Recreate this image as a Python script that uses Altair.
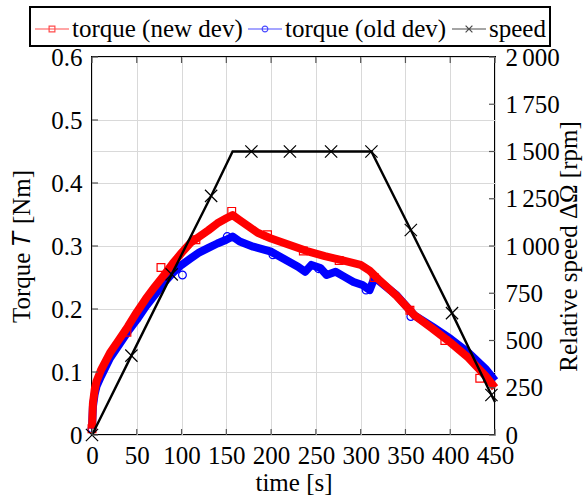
import altair as alt
import pandas as pd

# ---------------- data ----------------
series_names = ["torque (new dev)", "torque (old dev)", "speed"]
series_colors = ["#ff0000", "#0000ff", "#000000"]

# torque (new dev) [Nm]
new_t = [0, 1, 3, 5, 10, 20, 30, 40, 50, 60, 70, 80, 90, 100, 110, 120, 130, 140,
         150, 157, 165, 175, 185, 200, 220, 240, 260, 280, 300, 310, 320, 340, 360,
         380, 400, 420, 440, 450]
new_T = [0.01, 0.05, 0.072, 0.085, 0.103, 0.13, 0.151, 0.172, 0.195, 0.216, 0.235,
         0.253, 0.272, 0.289, 0.305, 0.315, 0.325, 0.336, 0.344, 0.349, 0.341, 0.331,
         0.321, 0.312, 0.302, 0.292, 0.284, 0.277, 0.27, 0.261, 0.247, 0.221, 0.19,
         0.169, 0.147, 0.123, 0.093, 0.075]
new_mark_t = [0, 39, 77, 116, 156, 196, 236, 276, 315, 355, 394, 433]
new_mark_T = [0.01, 0.163, 0.266, 0.31, 0.355, 0.318, 0.292, 0.277, 0.25, 0.198, 0.15, 0.09]

# torque (old dev) [Nm]
old_t = [0, 1, 3, 5, 10, 20, 30, 40, 50, 60, 70, 80, 90, 100, 110, 120, 130, 140,
         150, 157, 165, 180, 200, 210, 220, 230, 238, 245, 255, 262, 272, 282, 292,
         302, 310, 315, 320, 340, 360, 380, 400, 420, 440, 450]
old_T = [0.01, 0.045, 0.065, 0.077, 0.093, 0.122, 0.143, 0.164, 0.183, 0.204, 0.222,
         0.241, 0.257, 0.27, 0.28, 0.29, 0.297, 0.304, 0.31, 0.315, 0.307, 0.299,
         0.291, 0.283, 0.275, 0.267, 0.259, 0.27, 0.265, 0.254, 0.259, 0.251, 0.243,
         0.238, 0.23, 0.248, 0.245, 0.222, 0.19, 0.172, 0.153, 0.131, 0.104, 0.086]
old_mark_t = [0, 50, 101, 151, 202, 253, 306, 356, 404]
old_mark_T = [0.01, 0.185, 0.254, 0.315, 0.286, 0.264, 0.23, 0.188, 0.145]

# relative speed [rpm]
speed_t = [0, 44, 89, 133, 157, 178, 221, 267, 312, 356, 402, 446, 450]
speed_rpm = [0, 420, 850, 1265, 1500, 1500, 1500, 1500, 1500, 1085, 645, 212, 175]
speed_mark_t = [0, 44, 89, 133, 178, 221, 267, 312, 356, 402, 446]
speed_mark_rpm = [0, 420, 850, 1265, 1500, 1500, 1500, 1500, 1085, 645, 212]

# axis ticks
x_ticks = [0, 50, 100, 150, 200, 250, 300, 350, 400, 450]
left_ticks = [0, 0.1, 0.2, 0.3, 0.4, 0.5, 0.6]
right_ticks = [0, 250, 500, 750, 1000, 1250, 1500, 1750, 2000]
rpm_grid = [1500]

# ---------------- styling ----------------
W, H = 403, 378
FONT = "Liberation Serif"
GRID = "#d9d9d9"
TICK = "#555555"

xs = alt.Scale(domain=[0, 450], nice=False, zero=False)
ls = alt.Scale(domain=[0, 0.6], nice=False)
rs = alt.Scale(domain=[0, 2000], nice=False)

legend_shapes = [
    "M-1,0L1,0M-0.17,-0.17L0.17,-0.17L0.17,0.17L-0.17,0.17Z",
    "M-1,0L1,0M0.17,0A0.17,0.17,0,1,1,-0.17,0A0.17,0.17,0,1,1,0.17,0",
    "M-1,0L1,0M-0.2,-0.2L0.2,0.2M-0.2,0.2L0.2,-0.2",
]
x_shape = "M-1,-1L1,1M-1,1L1,-1"

df_new = pd.DataFrame({"t": new_t, "T": new_T})
df_new_m = pd.DataFrame({"t": new_mark_t, "T": new_mark_T})
df_old = pd.DataFrame({"t": old_t, "T": old_T})
df_old_m = pd.DataFrame({"t": old_mark_t, "T": old_mark_T})
df_sp = pd.DataFrame({"t": speed_t, "rpm": speed_rpm})
df_sp_m = pd.DataFrame({"t": speed_mark_t, "rpm": speed_mark_rpm})
df_xt = pd.DataFrame({"t": x_ticks})
df_lt = pd.DataFrame({"T": left_ticks})
df_rt = pd.DataFrame({"rpm": right_ticks})
df_rg = pd.DataFrame({"rpm": rpm_grid})
df_leg = pd.DataFrame({"series": pd.Series([], dtype=str),
                       "t": pd.Series([], dtype=float),
                       "T": pd.Series([], dtype=float)})

x_axis = alt.Axis(values=x_ticks, grid=True, ticks=False, tickSize=0, domain=False,
                  labelPadding=8, title="time [s]", titlePadding=2,
                  labelFlush=False, labelOverlap=False)
left_axis = alt.Axis(orient="left", values=left_ticks, format="~g", grid=True,
                     ticks=False, tickSize=0, domain=False, labelPadding=10,
                     title="Torque 𝑇 [Nm]", titlePadding=16,
                     labelFlush=False, labelOverlap=False)
right_axis = alt.Axis(orient="right", values=right_ticks, grid=False, ticks=False,
                      tickSize=0, domain=False, labelPadding=10,
                      labelExpr="replace(format(datum.value, ','), ',', '\u2006')",
                      title="Relative speed ΔΩ [rpm]", titleAngle=270,
                      titleBaseline="top", titleX=61,
                      labelFlush=False, labelOverlap=False)

# 1500 rpm grid line
grid1500 = alt.Chart(df_rg).mark_rule(color=GRID, strokeWidth=1).encode(
    y=alt.Y("rpm:Q", scale=rs, axis=None), x=alt.value(0), x2=alt.value(W))

old_line = alt.Chart(df_old).mark_line(color="#0000ff", strokeWidth=8,
                                       strokeJoin="round", strokeCap="butt").encode(
    x=alt.X("t:Q", scale=xs, axis=x_axis),
    y=alt.Y("T:Q", scale=ls, axis=left_axis))
old_marks = alt.Chart(df_old_m).mark_point(shape="circle", filled=False, color="#0000ff",
                                           size=60, strokeWidth=1.2, opacity=1).encode(
    x=alt.X("t:Q", scale=xs, axis=None), y=alt.Y("T:Q", scale=ls, axis=None))
new_line = alt.Chart(df_new).mark_line(color="#ff0000", strokeWidth=8,
                                       strokeJoin="round", strokeCap="butt").encode(
    x=alt.X("t:Q", scale=xs, axis=None), y=alt.Y("T:Q", scale=ls, axis=None))
new_marks = alt.Chart(df_new_m).mark_point(shape="square", filled=False, color="#ff0000",
                                           size=60, strokeWidth=1.2, opacity=1).encode(
    x=alt.X("t:Q", scale=xs, axis=None), y=alt.Y("T:Q", scale=ls, axis=None))
sp_line = alt.Chart(df_sp).mark_line(color="black", strokeWidth=2.4).encode(
    x=alt.X("t:Q", scale=xs, axis=None),
    y=alt.Y("rpm:Q", scale=rs, axis=right_axis))
sp_marks = alt.Chart(df_sp_m).mark_point(shape=x_shape, filled=False, color="black",
                                         size=150, strokeWidth=1.2, opacity=1).encode(
    x=alt.X("t:Q", scale=xs, axis=None), y=alt.Y("rpm:Q", scale=rs, axis=None))

# inward ticks
top_ticks = alt.Chart(df_xt).mark_rule(color=TICK, strokeWidth=1.2).encode(
    x=alt.X("t:Q", scale=xs, axis=None), y=alt.value(0), y2=alt.value(6))
bot_ticks = alt.Chart(df_xt).mark_rule(color=TICK, strokeWidth=1.2).encode(
    x=alt.X("t:Q", scale=xs, axis=None), y=alt.value(H - 6), y2=alt.value(H))
l_ticks = alt.Chart(df_lt).mark_rule(color=TICK, strokeWidth=1.2).encode(
    y=alt.Y("T:Q", scale=ls, axis=None), x=alt.value(0), x2=alt.value(6))
r_ticks = alt.Chart(df_rt).mark_rule(color=TICK, strokeWidth=1.2).encode(
    y=alt.Y("rpm:Q", scale=rs, axis=None), x=alt.value(W - 6), x2=alt.value(W))

# legend carrier (no visible marks)
leg = alt.Legend(orient="none", legendX=-62, legendY=-50, direction="horizontal", title=None)
legend_layer = alt.Chart(df_leg).mark_point(filled=False, strokeWidth=1.2).encode(
    x=alt.X("t:Q", scale=xs, axis=None),
    y=alt.Y("T:Q", scale=ls, axis=None),
    color=alt.Color("series:N",
                    scale=alt.Scale(domain=series_names, range=series_colors), legend=leg),
    shape=alt.Shape("series:N",
                    scale=alt.Scale(domain=series_names, range=legend_shapes), legend=leg),
)

chart = alt.layer(
    grid1500, old_line, old_marks, new_line, new_marks, sp_line, sp_marks,
    top_ticks, bot_ticks, l_ticks, r_ticks, legend_layer
).resolve_scale(y="independent").resolve_axis(x="independent").properties(
    width=W, height=H,
    padding={"left": 92, "top": 57, "right": 88, "bottom": 64},
    autosize=alt.AutoSizeParams(type="none"),
    background="white",
).configure_view(
    stroke="black", strokeWidth=2
).configure_axis(
    labelFont=FONT, titleFont=FONT, labelFontSize=25, titleFontSize=25,
    labelColor="black", titleColor="black", titleFontWeight="normal",
    gridColor=GRID, gridWidth=1
).configure_legend(
    labelFont=FONT, labelFontSize=25, labelColor="black",
    symbolSize=1156, symbolStrokeWidth=1.2, symbolFillColor="transparent",
    strokeColor="black", strokeWidth=2, padding=4, columnPadding=2, labelOffset=2,
    labelLimit=400
)

chart.save("out.html", embed_options={"renderer": "svg", "actions": False})
